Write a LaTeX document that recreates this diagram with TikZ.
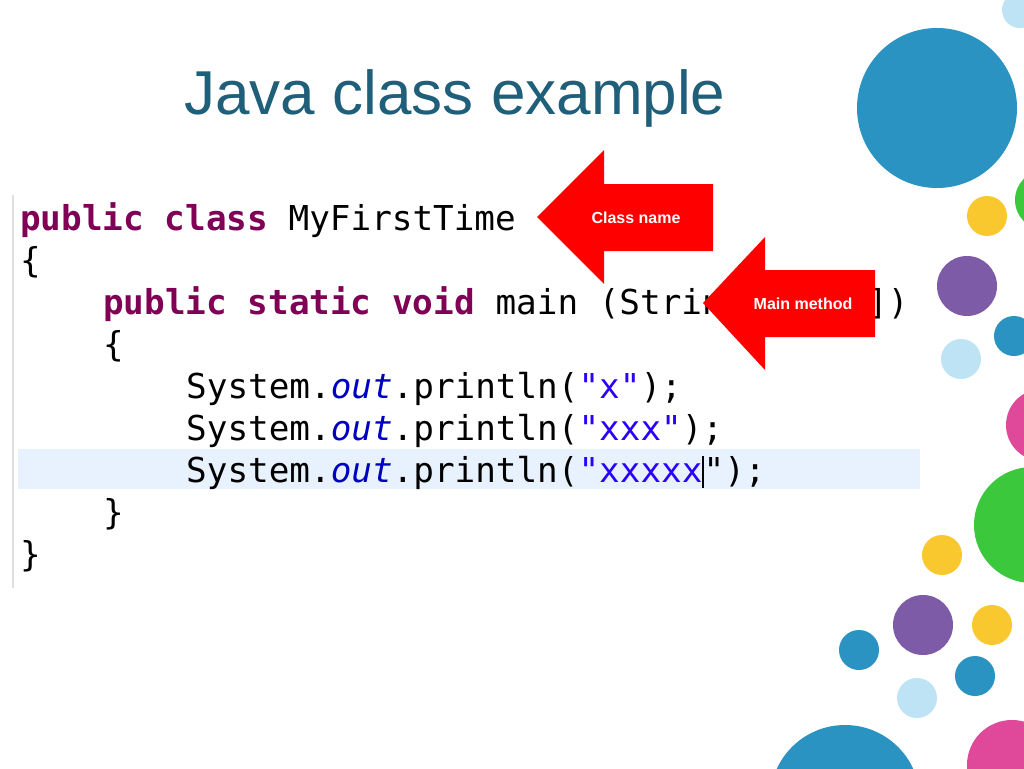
\documentclass[tikz,border=0pt]{standalone}
\usepackage{fontspec}
\setmainfont{Liberation Sans}
\setmonofont{DejaVu Sans Mono}
\definecolor{kw}{HTML}{7F0055}
\definecolor{fld}{HTML}{0000C0}
\definecolor{str}{HTML}{2A00FF}
\definecolor{cblue}{HTML}{2A93C1}
\definecolor{clb}{HTML}{BEE3F5}
\definecolor{cgreen}{HTML}{3CC83C}
\definecolor{cyel}{HTML}{F9C72E}
\definecolor{cpur}{HTML}{7D5BA6}
\definecolor{cpink}{HTML}{E0489A}
\definecolor{ttl}{HTML}{1F5F7A}
\definecolor{hl}{HTML}{E8F2FE}
\begin{document}
\begin{tikzpicture}[x=1pt,y=-1pt,
  code/.style={anchor=base west,inner sep=0,font=\fontsize{34.3}{34.3}\ttfamily},
  arr/.style={fill=red,draw=none},
  atext/.style={text=white,font=\bfseries\fontsize{16}{16}\selectfont}]
\useasboundingbox (0,0) rectangle (1024,768);
\fill[white] (0,0) rectangle (1024,768);
% circles
\fill[clb] (1020,10) circle (18);
\fill[cblue] (937,108) circle (80);
\fill[cgreen] (1045,200) circle (30);
\fill[cyel] (987,216) circle (20);
\fill[cpur] (967,286) circle (30);
\fill[cblue] (1014,336) circle (20);
\fill[clb] (961,359) circle (20);
\fill[cpink] (1042,425) circle (36);
\fill[cgreen] (1032,525) circle (58);
\fill[cyel] (942,555) circle (20);
\fill[cpur] (923,625) circle (30);
\fill[cyel] (992,625) circle (20);
\fill[cblue] (859,650) circle (20);
\fill[cblue] (975,676) circle (20);
\fill[clb] (917,698) circle (20);
\fill[cblue] (845,800) circle (75);
\fill[cpink] (1012,765) circle (45);
% title
\node[text=ttl,font=\fontsize{62}{62}\selectfont] (title) at (455,98) {Java class example};
% code panel
\draw[gray!25,line width=1.5] (13,195) -- (13,588);
\fill[hl] (18,449) rectangle (920,489);
\node[code] (l1) at (20,230) {\textbf{\color{kw}public class} MyFirstTime};
\node[code] (l2) at (20,272) {\{};
\node[code] (l3) at (103,314) {\textbf{\color{kw}public static void} main (String[] arg])};
\node[code] (l4) at (103,356) {\{};
\node[code] (l5) at (186,398) {System.{\color{fld}\itshape out}.println({\color{str}"x"});};
\node[code] (l6) at (186,440) {System.{\color{fld}\itshape out}.println({\color{str}"xxx"});};
\node[code] (l7) at (186,482) {System.{\color{fld}\itshape out}.println({\color{str}"xxxxx}\rule[-6pt]{1.2pt}{32pt}"{});};
\node[code] (l8) at (103,524) {\}};
\node[code] (l9) at (20,566) {\}};
% arrows
\fill[arr] (537,217) -- (604,150) -- (604,184) -- (713,184) -- (713,251) -- (604,251) -- (604,284) -- cycle;
\node[atext] (a1) at (636,218) {Class name};
\fill[arr] (703,303) -- (765,237) -- (765,270) -- (875,270) -- (875,337) -- (765,337) -- (765,370) -- cycle;
\node[atext] (a2) at (803,304) {Main method};
\end{tikzpicture}
\end{document}
